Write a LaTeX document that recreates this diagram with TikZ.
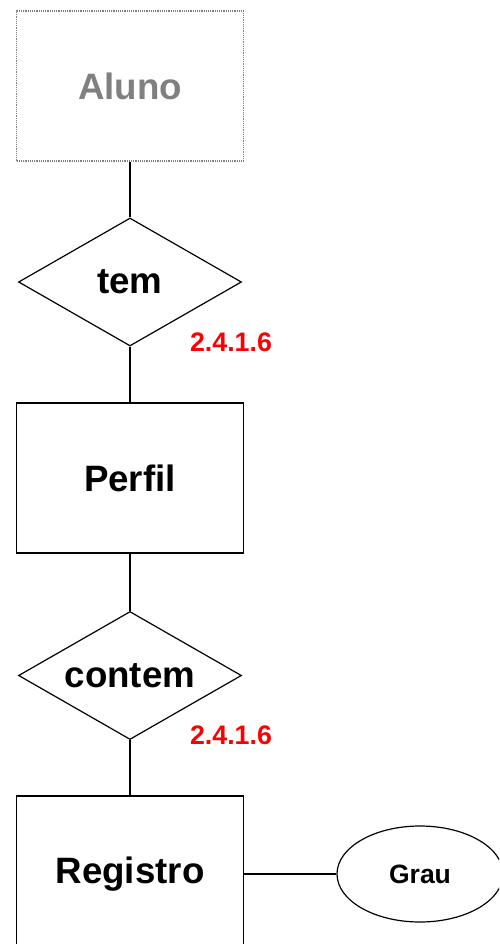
\documentclass[tikz,border=0pt]{standalone}
\usepackage{fontspec}
\setmainfont{Liberation Sans}
\usetikzlibrary{shapes.geometric}

\definecolor{aluno gray}{RGB}{128,128,128}

\begin{document}
\begin{tikzpicture}[x=1pt, y=-1pt,
	entity/.style={draw, line width=1.2pt, minimum width=227pt, minimum height=150pt, inner sep=0pt, font=\fontsize{36.7}{44}\selectfont\bfseries},
	relation/.style={diamond, aspect=1.74, draw, line width=1.2pt, minimum width=223pt, minimum height=128pt, inner sep=0pt, font=\fontsize{36.7}{44}\selectfont\bfseries},
	attrib/.style={ellipse, draw, line width=1.2pt, minimum width=166pt, minimum height=96pt, inner sep=0pt, font=\fontsize{26.5}{30}\selectfont\bfseries},
	refnum/.style={text=red, font=\fontsize{26.8}{32}\selectfont\bfseries},
	link/.style={line width=1.2pt}]
	\clip (0,0) rectangle (499,944);

	\node [entity, draw=aluno gray, densely dotted, text=aluno gray] (aluno) at (130, 86) {Aluno};
	\node [relation] (tem) at (130, 282) {tem};
	\node [refnum] (ref1) at (231, 342) {2.4.1.6};
	\node [entity] (perfil) at (130, 478) {Perfil};
	\node [relation] (contem) at (130, 675.5) {contem};
	\node [refnum] (ref2) at (231, 735) {2.4.1.6};
	\node [entity, minimum height=156pt] (registro) at (130, 874) {Registro};
	\node [attrib] (grau) at (420, 874) {Grau};

	\draw [link] (aluno) -- (tem);
	\draw [link] (tem) -- (perfil);
	\draw [link] (perfil) -- (contem);
	\draw [link] (contem) -- (registro);
	\draw [link] (registro) -- (grau);
\end{tikzpicture}
\end{document}
